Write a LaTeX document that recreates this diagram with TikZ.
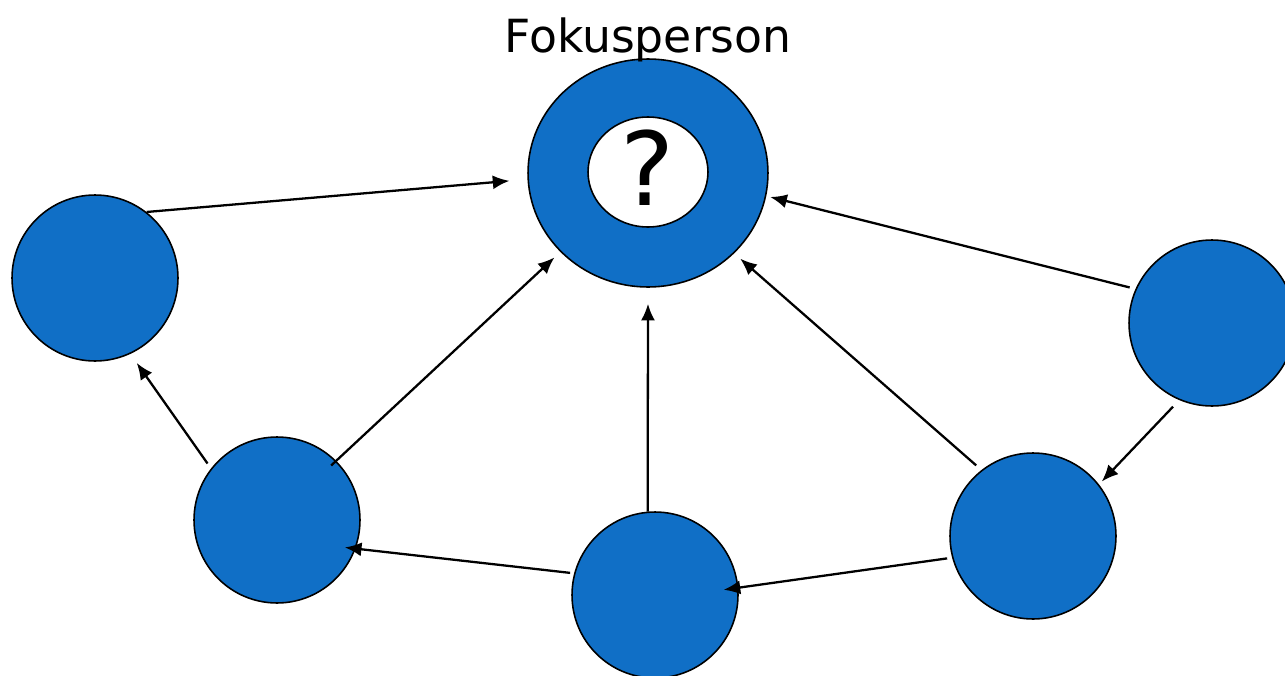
\documentclass[tikz,border=0pt]{standalone}
\usepackage{fontspec}
\setmainfont{DejaVu Sans}
\usetikzlibrary{arrows.meta,shapes.geometric}
\definecolor{nodeblue}{RGB}{16,111,198}
\tikzset{
  pnode/.style={circle,draw=black,line width=0.9pt,fill=nodeblue,minimum size=3.32cm,inner sep=0pt},
  link/.style={line width=1.3pt,-{Latex[length=9.5pt,width=8pt]}},
}
\begin{document}
\begin{tikzpicture}[x=0.02cm,y=-0.02cm]
\useasboundingbox (0,0) rectangle (1285,676);
\clip (0,0) rectangle (1285,676);
\fill[white] (0,0) rectangle (1285,676);
% focus person
\node[ellipse,draw=black,line width=0.9pt,fill=nodeblue,minimum width=4.8cm,minimum height=4.56cm,inner sep=0pt] (F) at (648,173) {};
\node[ellipse,draw=black,line width=0.9pt,fill=white,minimum width=2.4cm,minimum height=2.2cm,inner sep=0pt] (Fi) at (648,172) {};
\node[anchor=base,font=\fontsize{58}{60}\selectfont,inner sep=0pt] (q) at (648,205) {?};
\node[anchor=base,font=\fontsize{26}{30}\selectfont,inner sep=0pt] (lbl) at (648,52) {Fokusperson};
% other persons
\node[pnode] (A) at (95,278) {};
\node[pnode] (B) at (277,520) {};
\node[pnode] (C) at (655,595) {};
\node[pnode] (D) at (1033,536) {};
\node[pnode] (E) at (1212,323) {};
% connectors
\draw[link,shorten >=0.36cm] (A.52) -- (F.183);
\draw[link,shorten <=-0.14cm,shorten >=0.16cm] (B.45) -- (F.222);
\draw[link,shorten >=0.32cm] (C.95) -- (F.270);
\draw[link,shorten <=0.14cm,shorten >=0.16cm] (D.128) -- (F.317);
\draw[link,shorten <=0.12cm,shorten >=0.08cm] (E.156) -- (F.349);
\draw[link,shorten <=0.18cm,shorten >=0.08cm] (E.247) -- (D.38);
\draw[link,shorten <=0.1cm,shorten >=-0.3cm] (D.195) -- (C.5);
\draw[link,shorten <=0.08cm,shorten >=-0.22cm] (C.165) -- (B.340);
\draw[link,shorten <=0.12cm,shorten >=0.22cm] (B.142) -- (A.295);
\end{tikzpicture}
\end{document}
